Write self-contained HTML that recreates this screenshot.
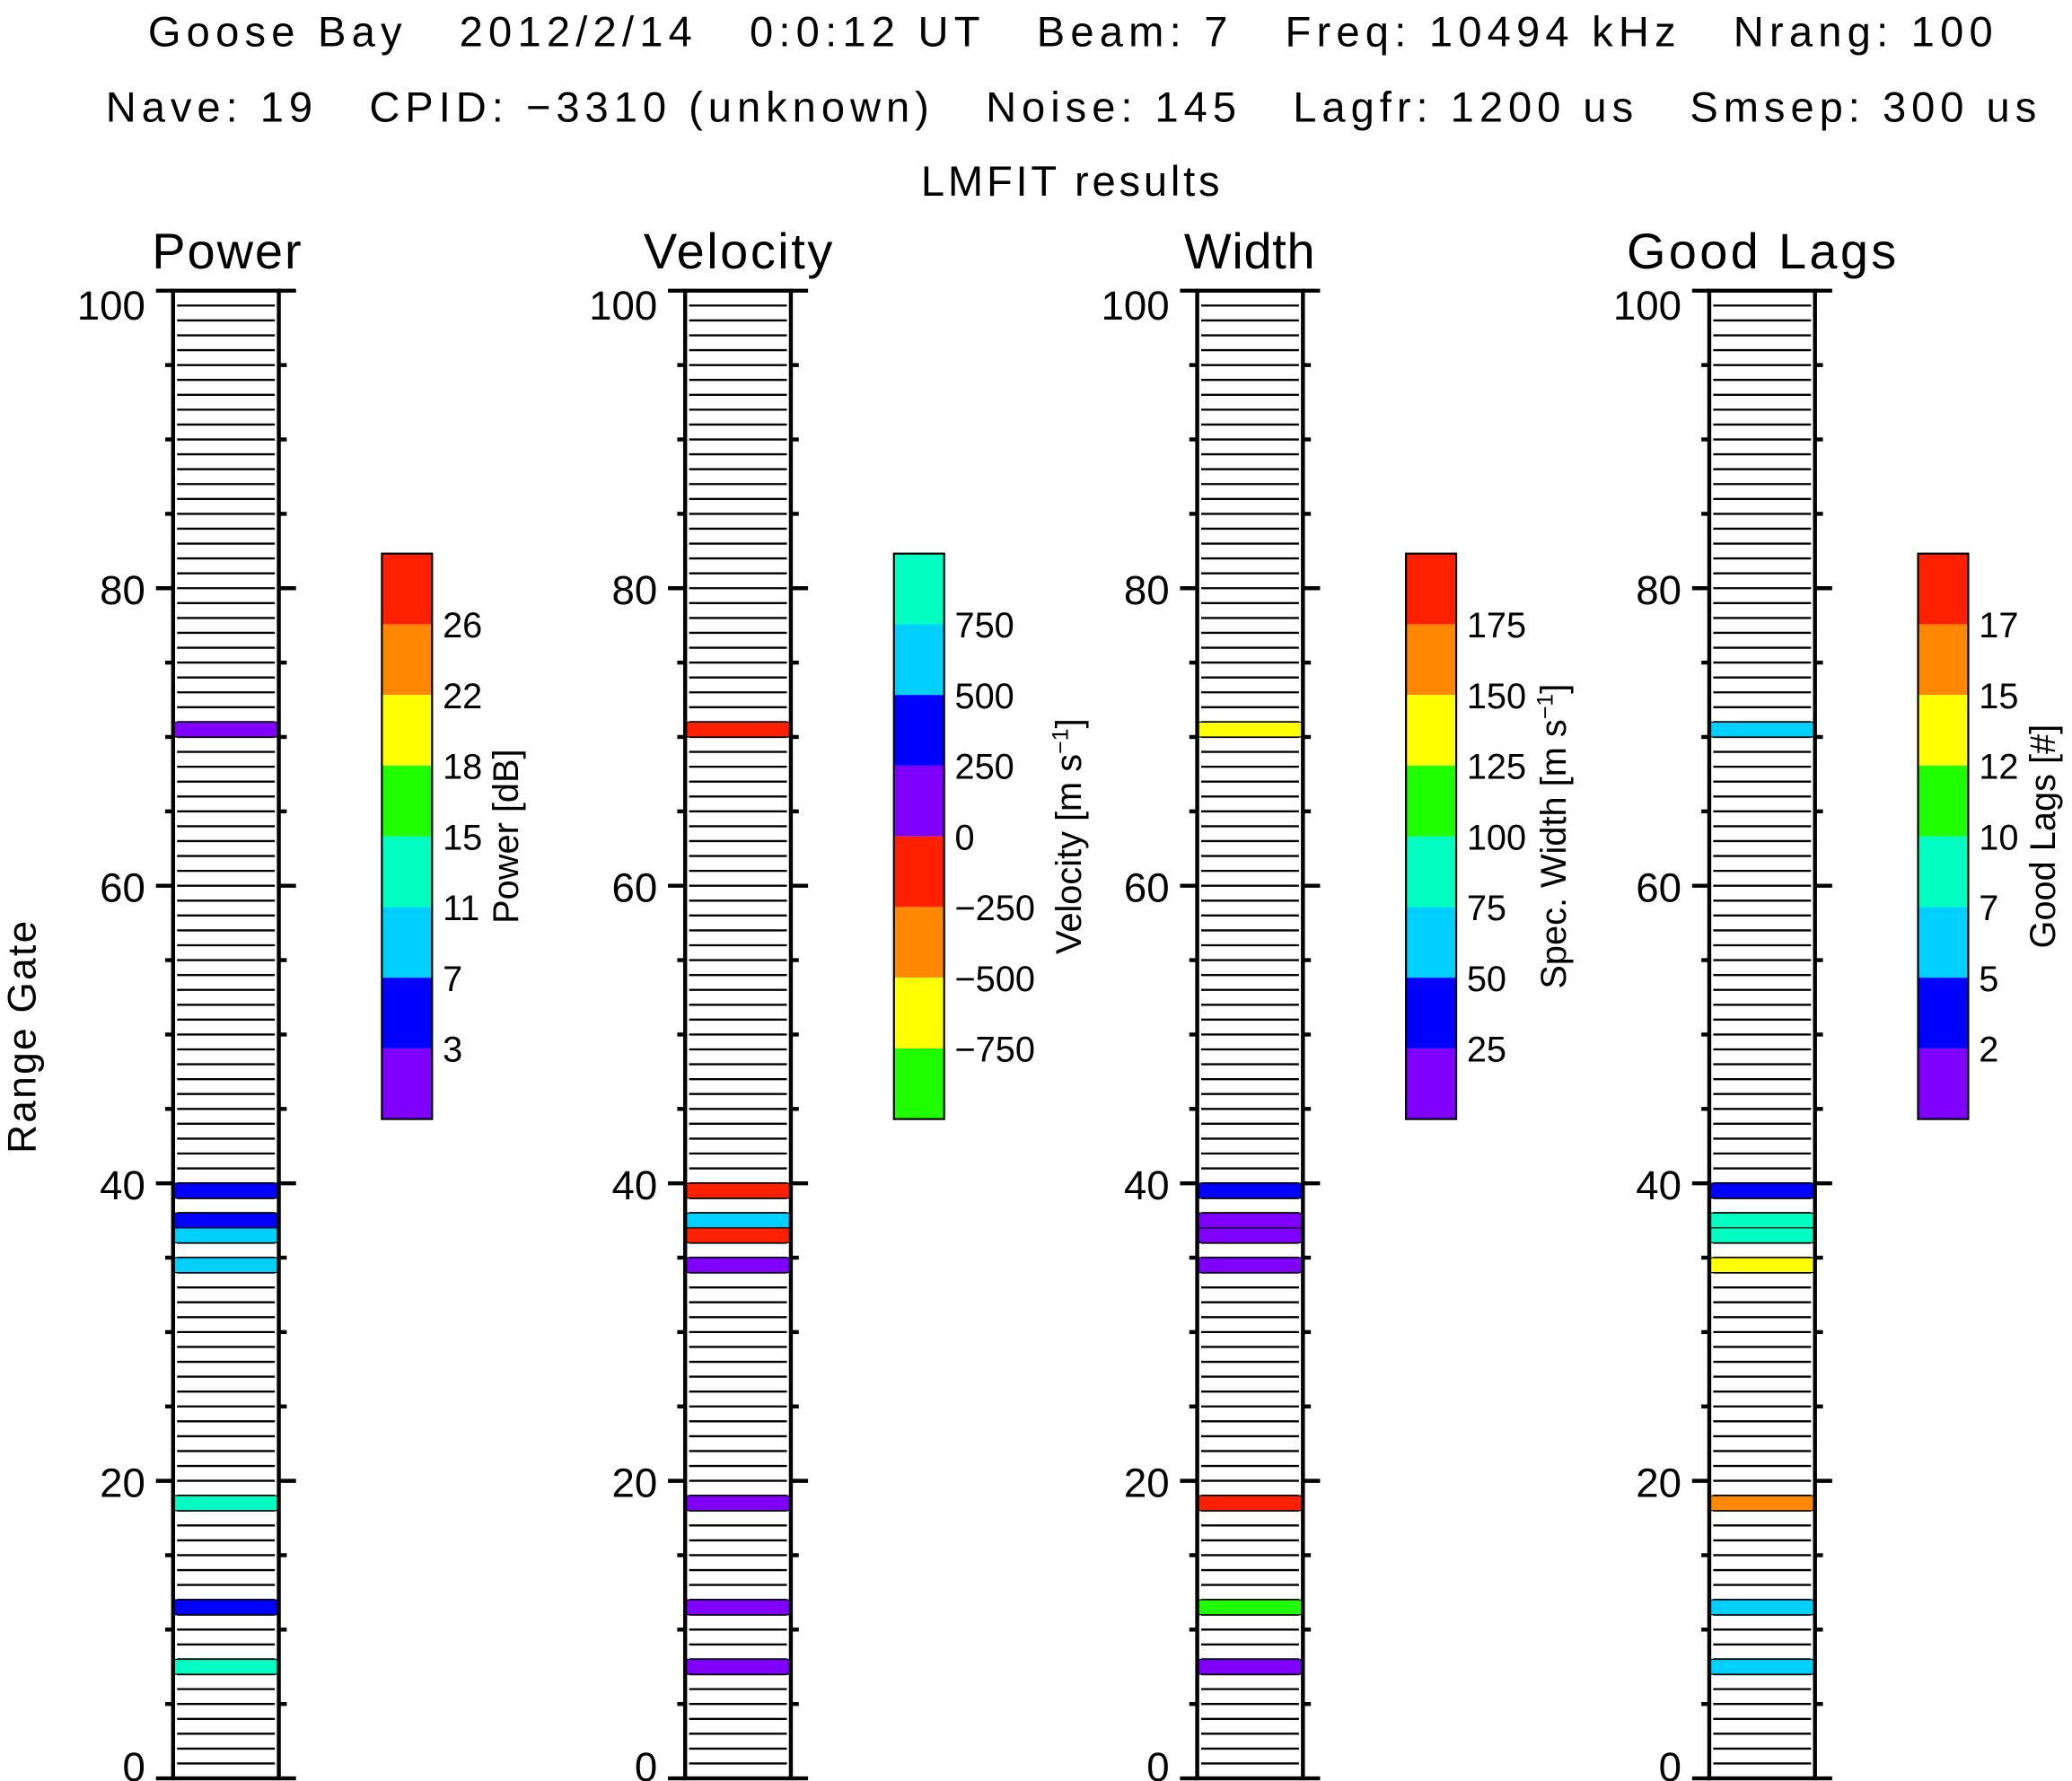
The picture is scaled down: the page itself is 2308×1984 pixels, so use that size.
<!DOCTYPE html>
<html><head><meta charset="utf-8"><style>html,body{margin:0;padding:0;background:#fff}svg{display:block}</style></head>
<body>
<svg id="s" xmlns="http://www.w3.org/2000/svg" width="2308" height="1984" viewBox="0 0 1568 1348" preserveAspectRatio="none" font-family="Liberation Sans, DejaVu Sans, sans-serif">
<rect width="1568" height="1348" fill="#fff"/>
<g font-size="32" fill="#000">
<text x="112" y="35" textLength="1396" lengthAdjust="spacing" xml:space="preserve">Goose Bay   2012/2/14   0:0:12 UT   Beam: 7   Freq: 10494 kHz   Nrang: 100</text>
<text x="80" y="92" textLength="1461" lengthAdjust="spacing" xml:space="preserve">Nave: 19   CPID: −3310 (unknown)   Noise: 145   Lagfr: 1200 us   Smsep: 300 us</text>
<text x="697" y="148" textLength="226" lengthAdjust="spacing">LMFIT results</text>
</g>
<text transform="translate(27,873) rotate(-90)" font-size="30" textLength="176" lengthAdjust="spacing">Range Gate</text>
<g id="panels"></g>
</svg>
<script>
(function(){
var C={r:'#ff2000',o:'#ff8800',y:'#ffff00',g:'#20ff00',t:'#00ffc0',c:'#00d0ff',b:'#0000ff',p:'#8000ff'};
var gates=[70,39,37,36,34,18,11,7];
var P=[
 {t:'Power',tx:115,tw:113,cols:'pbbcctbt',cb:'roygtcbp',lab:['26','22','18','15','11','7','3'],ax:'Power [dB]',axx:392},
 {t:'Velocity',tx:487,tw:143,cols:'rrcrpppp',cb:'tcbproyg',lab:['750','500','250','0','−250','−500','−750'],ax:'Velocity [m s<tspan dy="-10" font-size="17">−1</tspan><tspan dy="10">]</tspan>',axx:818},
 {t:'Width',tx:896,tw:99,cols:'ybppprgp',cb:'roygtcbp',lab:['175','150','125','100','75','50','25'],ax:'Spec. Width [m s<tspan dy="-10" font-size="17">−1</tspan><tspan dy="10">]</tspan>',axx:1185},
 {t:'Good Lags',tx:1231,tw:204,cols:'cbttyocc',cb:'roygtcbp',lab:['17','15','12','10','7','5','2'],ax:'Good Lags [#]',axx:1555}
];
var h='';
P.forEach(function(p,i){
 var L=131+i*387.5,R=L+80,T=220,B=1346,gh=(B-T)/100;
 h+='<text x="'+p.tx+'" y="203" font-size="38" textLength="'+p.tw+'" lengthAdjust="spacing">'+p.t+'</text>';
 for(var g=1;g<100;g++){var y=B-g*gh;h+='<line x1="'+(L+3)+'" x2="'+(R-3)+'" y1="'+y+'" y2="'+y+'" stroke="#000" stroke-width="1.6"/>';}
 gates.forEach(function(g,k){var y=B-(g+1)*gh;h+='<rect x="'+L+'" y="'+y+'" width="80" height="'+gh+'" fill="'+C[p.cols[k]]+'" stroke="#000" stroke-width="0.8"/>';});
 h+='<rect x="'+L+'" y="'+T+'" width="80" height="'+(B-T)+'" fill="none" stroke="#000" stroke-width="3"/>';
 for(var v=0;v<=100;v+=5){var y=B-v*gh,len=(v%20==0)?13:6;
  h+='<line x1="'+(L-len)+'" x2="'+L+'" y1="'+y+'" y2="'+y+'" stroke="#000" stroke-width="3"/><line x1="'+R+'" x2="'+(R+len)+'" y1="'+y+'" y2="'+y+'" stroke="#000" stroke-width="3"/>';
  if(v%20==0){var ly=y+12;if(v==100)ly=y+22;if(v==0)ly=y+2;
   h+='<text x="'+(L-21)+'" y="'+ly+'" font-size="31" text-anchor="end">'+v+'</text>';}}
 var cx=289+i*387.5,cb=p.cb;
 for(var k=0;k<8;k++){h+='<rect x="'+cx+'" y="'+(419+k*53.5)+'" width="38" height="53.5" fill="'+C[cb[k]]+'"/>';}
 h+='<rect x="'+cx+'" y="419" width="38" height="428" fill="none" stroke="#000" stroke-width="1.5"/>';
 p.lab.forEach(function(s,k){h+='<text x="'+(cx+46)+'" y="'+(419+(k+1)*53.5+10)+'" font-size="27">'+s+'</text>';});
 h+='<text transform="translate('+p.axx+',633) rotate(-90)" font-size="27" text-anchor="middle">'+p.ax+'</text>';
});
document.getElementById('panels').innerHTML=h;
})();
</script>
</body></html>
